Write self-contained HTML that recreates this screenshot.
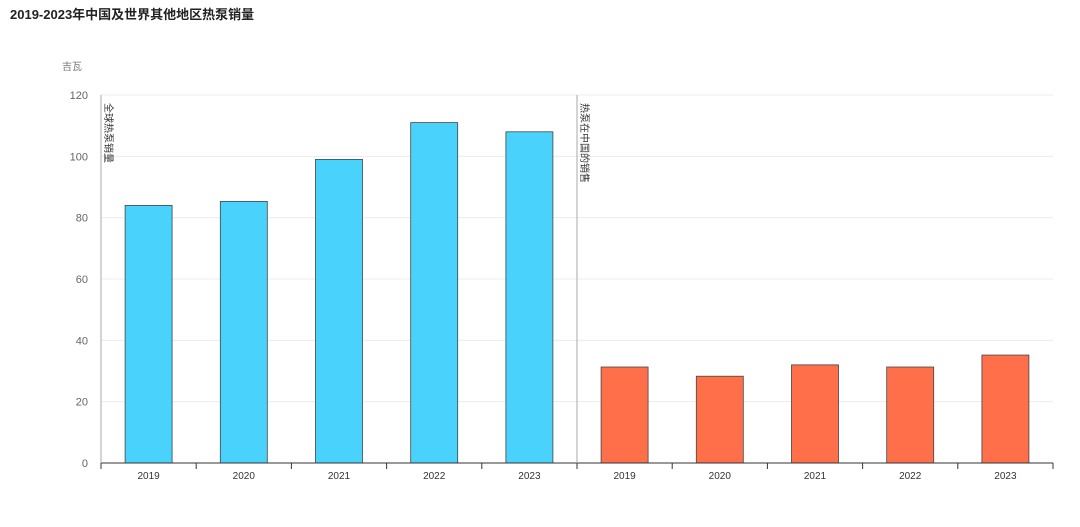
<!DOCTYPE html>
<html><head><meta charset="utf-8"><style>
body{margin:0;background:#fff;width:1080px;height:522px;overflow:hidden;font-family:"Liberation Sans","Noto Sans CJK SC",sans-serif}
</style></head><body>
<svg width="1080" height="522" font-family="Liberation Sans, Noto Sans CJK SC, sans-serif">
<text x="10" y="19" font-size="13" font-weight="bold" fill="#222">2019-2023年中国及世界其他地区热泵销量</text>
<text x="62" y="70" font-size="10" fill="#777">吉瓦</text>
<g id="grid"></g><g id="bars"></g><g id="axes"></g>
</svg>
<script>
const categories=["2019","2020","2021","2022","2023","2019","2020","2021","2022","2023"];
const globalValues=[84,85.3,99,111,108];
const chinaValues=[31.3,28.3,32,31.3,35.2];
const yTicks=[0,20,40,60,80,100,120];
const NS="http://www.w3.org/2000/svg";
const x0=101,x1=1053,y0=463,yTop=95,yMax=120;
const bw=(x1-x0)/categories.length;
const y=v=>y0-(v/yMax)*(y0-yTop);
function mk(t,a,p){const e=document.createElementNS(NS,t);for(const k in a)e.setAttribute(k,a[k]);p.appendChild(e);return e;}
const grid=document.getElementById('grid'),bars=document.getElementById('bars'),axes=document.getElementById('axes');
yTicks.forEach(t=>{
 if(t>0){const l=mk('line',{x1:x0,x2:x1,y1:y(t),y2:y(t),stroke:'#ececec'},grid);
 
 }
 const tx=mk('text',{x:88,y:y(t)+4,'text-anchor':'end','font-size':11,fill:'#666'},axes);
 tx.textContent=t;
 
 
});
const vals=globalValues.concat(chinaValues);
vals.forEach((v,i)=>{
 const cx=x0+bw*(i+0.5);
 const r=mk('rect',{x:cx-23.5,y:y(v),width:47,height:y0-y(v),fill:i<5?'#48d2fc':'#ff704a',stroke:'#444','stroke-width':0.8},bars);
 
 
 const tx=mk('text',{x:cx,y:479,'text-anchor':'middle','font-size':10,fill:'#333'},axes);
 tx.textContent=categories[i];
 
 
});
for(let i=0;i<=categories.length;i++){
 const tk=mk('line',{x1:x0+bw*i,x2:x0+bw*i,y1:y0,y2:y0+6,stroke:'#333'},axes);
 
 
}
const xa=mk('line',{x1:x0,x2:x1,y1:y0,y2:y0,stroke:'#333'},axes);


const ya=mk('line',{x1:x0,x2:x0,y1:yTop,y2:y0,stroke:'#aaa'},axes);


const dx=x0+bw*5;
const dv=mk('line',{x1:dx,x2:dx,y1:yTop,y2:y0,stroke:'#aaa'},axes);


[[x0+4,'全球热泵销量','section-label-global'],[dx+4,'热泵在中国的销售','section-label-china']].forEach(([sx,s,n])=>{
 const t=mk('text',{x:0,y:0,'font-size':10,fill:'#333',transform:`translate(${sx},${yTop+8}) rotate(90)`},axes);
 t.textContent=s;
 
 
});
</script>
</body></html>
